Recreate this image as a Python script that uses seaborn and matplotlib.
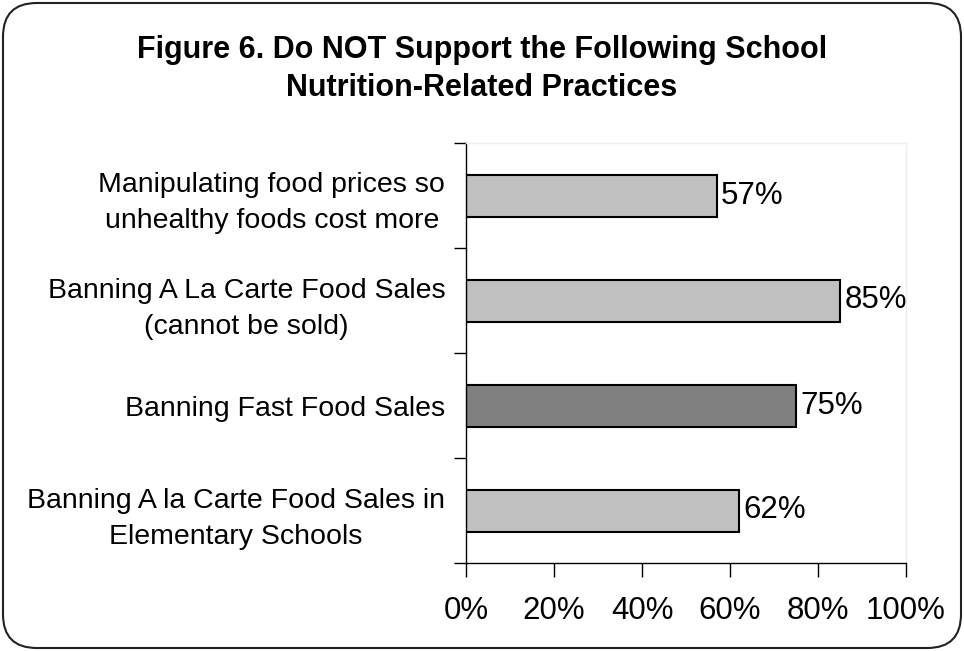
import matplotlib
matplotlib.use("Agg")
import matplotlib.pyplot as plt
from matplotlib.patches import FancyBboxPatch
import seaborn as sns
import pandas as pd

categories = [
    "Manipulating food prices so\nunhealthy foods cost more",
    "Banning A La Carte Food Sales\n(cannot be sold)",
    "Banning Fast Food Sales",
    "Banning A la Carte Food Sales in\nElementary Schools",
]
values = [57, 85, 75, 62]
colors = ["#C0C0C0", "#C0C0C0", "#808080", "#C0C0C0"]
x_ticks = [0, 20, 40, 60, 80, 100]
title = "Figure 6. Do NOT Support the Following School\nNutrition-Related Practices"

sns.set_theme(style="white")
plt.rcParams["font.family"] = ["Liberation Sans", "DejaVu Sans"]
plt.rcParams["text.color"] = "black"
plt.rcParams["xtick.color"] = "black"
plt.rcParams["ytick.color"] = "black"

df = pd.DataFrame({"practice": categories, "pct": values})

fig = plt.figure(figsize=(9.64, 6.51), dpi=100)
ax = fig.add_axes([466 / 964, 1 - 563 / 651, (906 - 466) / 964, (563 - 143) / 651])

sns.barplot(data=df, y="practice", x="pct", hue="practice", palette=colors,
            legend=False, width=0.4, edgecolor="black", linewidth=1.5,
            saturation=1, ax=ax, orient="h")

for bar, v in zip(ax.patches, values):
    ax.annotate(f"{v}%", (bar.get_width(), bar.get_y() + bar.get_height() / 2),
                xytext=(3, 0), textcoords="offset points",
                va="center", ha="left", fontsize=22.5)

ax.set_xlim(0, 100)
ax.set_ylim(3.5, -0.5)
ax.set_xticks(x_ticks)
ax.set_xticklabels([f"{t}%" for t in x_ticks], fontsize=22.5)
ax.set_xlabel("")
ax.set_ylabel("")

# category labels centred on each band, ticks at band boundaries
ax.set_yticks([-0.5, 0.5, 1.5, 2.5, 3.5])
ax.set_yticklabels([])
ax.tick_params(axis="y", which="major", left=True, length=9, width=1, color="black")
ax.set_yticks(range(len(categories)), minor=True)
ax.set_yticklabels(categories, minor=True, fontsize=20.5, ha="right",
                   multialignment="center", linespacing=1.5)
ax.tick_params(axis="y", which="minor", length=0, pad=15)
ax.tick_params(axis="x", bottom=True, length=10, width=1, color="black", pad=14)

for side in ["top", "right"]:
    ax.spines[side].set_color("#EEEEEE")
    ax.spines[side].set_linewidth(1)
for side in ["left", "bottom"]:
    ax.spines[side].set_color("black")
    ax.spines[side].set_linewidth(1)

fig.text(0.5, 1 - 69 / 651, title, ha="center", va="center", fontsize=22,
         fontweight="bold", linespacing=1.37)

frame = FancyBboxPatch((3 / 964, 3 / 651), 958 / 964, 645 / 651,
                       boxstyle="round,pad=0,rounding_size=0.035",
                       transform=fig.transFigure, fill=False,
                       edgecolor="#222222", linewidth=1.5,
                       mutation_aspect=964 / 651)
fig.patches.append(frame)

fig.savefig("out.png", dpi=100, facecolor="white")
